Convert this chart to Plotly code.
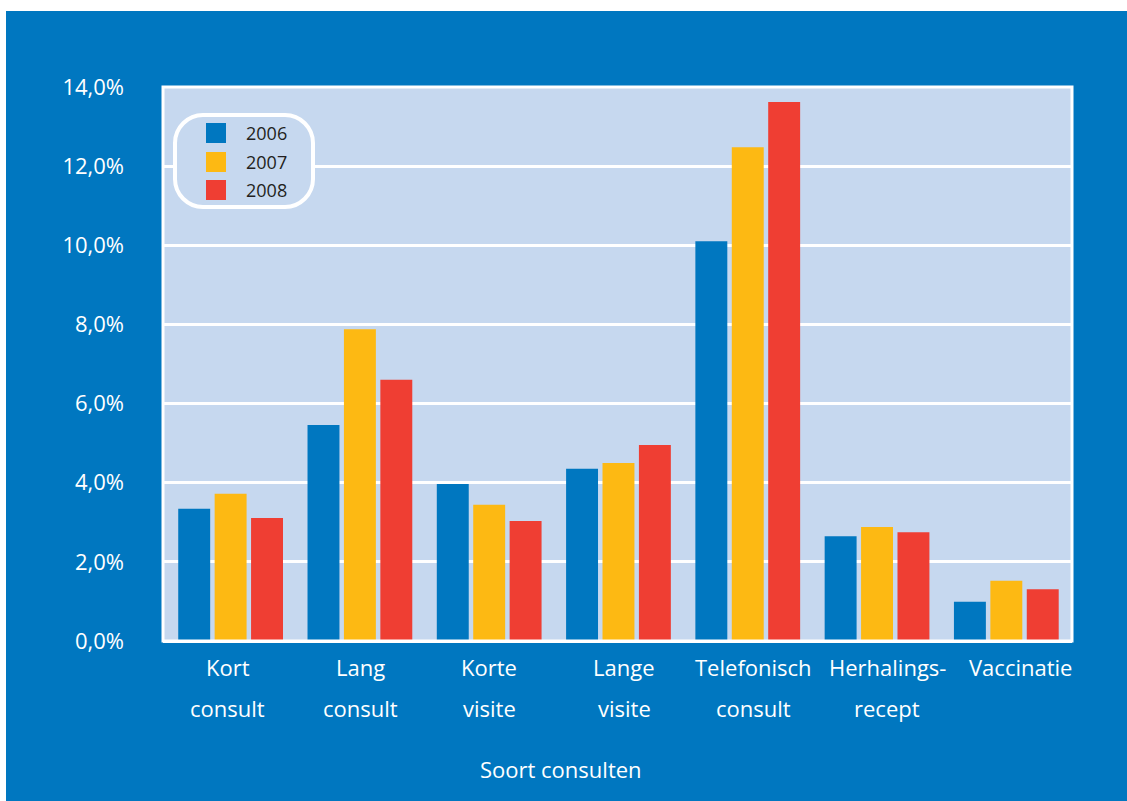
import plotly.graph_objects as go

# ---- data -------------------------------------------------------------
categories = ["Kort consult", "Lang consult", "Korte visite", "Lange visite",
              "Telefonisch consult", "Herhalings-recept", "Vaccinatie"]
label_line1 = ["Kort", "Lang", "Korte", "Lange", "Telefonisch", "Herhalings-", "Vaccinatie"]
label_line2 = ["consult", "consult", "visite", "visite", "consult", "recept", ""]

years = ["2006", "2007", "2008"]
values_2006 = [3.34, 5.46, 3.97, 4.35, 10.10, 2.65, 0.99]
values_2007 = [3.72, 7.88, 3.44, 4.50, 12.48, 2.88, 1.52]
values_2008 = [3.11, 6.60, 3.03, 4.95, 13.62, 2.75, 1.31]
series = [values_2006, values_2007, values_2008]

y_ticks = [0, 2, 4, 6, 8, 10, 12, 14]
y_ticktext = [f"{v:.1f}%".replace(".", ",") for v in y_ticks]
axis_title = "Soort consulten"

# ---- styling ----------------------------------------------------------
BLUE = "#0077C0"
PANEL = "#C6D8EF"
COLORS = ["#0077C0", "#FDB913", "#EF3E33"]
FONT = "Open Sans"

W, H = 1127, 801
L, R, T, B = 163, 1072, 87, 641          # plot area edges in pixels


def px_x(p):
    return (p - L) / (R - L)


def px_y(p):
    return (B - p) / (B - T)


fig = go.Figure()
for name, vals, col in zip(years, series, COLORS):
    fig.add_trace(go.Bar(x=categories, y=vals, name=name,
                         marker=dict(color=col, line=dict(width=0)),
                         showlegend=False))

fig.update_layout(
    width=W, height=H,
    margin=dict(l=L, r=W - R, t=T, b=H - B),
    paper_bgcolor=BLUE,
    plot_bgcolor=PANEL,
    barmode="group",
    bargap=0.155,
    bargroupgap=0.123,
    font=dict(family=FONT, color="white", size=22),
    xaxis=dict(showticklabels=False, showgrid=False, zeroline=False,
               showline=False, ticks="", range=[-0.523, 6.508]),
    yaxis=dict(range=[0, 14], tickmode="array", tickvals=y_ticks,
               ticktext=y_ticktext,
               showgrid=True, gridcolor="white", gridwidth=3,
               zeroline=True, zerolinecolor="white", zerolinewidth=3,
               showline=False, ticks="", ticklabelstandoff=38,
               tickfont=dict(size=22, color="white", family=FONT)),
)

shapes = []
# white strips at the top and left edge of the page
shapes.append(dict(type="rect", xref="paper", yref="paper", layer="above",
                   x0=px_x(0), x1=px_x(W), y0=px_y(0), y1=px_y(11),
                   fillcolor="white", line=dict(width=0)))
shapes.append(dict(type="rect", xref="paper", yref="paper", layer="above",
                   x0=px_x(0), x1=px_x(6), y0=px_y(0), y1=px_y(H),
                   fillcolor="white", line=dict(width=0)))
# frame around the plot area
shapes.append(dict(type="rect", xref="paper", yref="paper", layer="above",
                   x0=0, x1=1, y0=0, y1=1,
                   line=dict(color="white", width=3)))

# rounded legend box
lx0, lx1, ly0, ly1, rad = 175, 313, 115, 207, 28
k = 0.55 * rad


def P(x, y):
    return f"{px_x(x):.5f},{px_y(y):.5f}"


path = (f"M{P(lx0 + rad, ly0)} L{P(lx1 - rad, ly0)} "
        f"C{P(lx1 - rad + k, ly0)} {P(lx1, ly0 + rad - k)} {P(lx1, ly0 + rad)} "
        f"L{P(lx1, ly1 - rad)} "
        f"C{P(lx1, ly1 - rad + k)} {P(lx1 - rad + k, ly1)} {P(lx1 - rad, ly1)} "
        f"L{P(lx0 + rad, ly1)} "
        f"C{P(lx0 + rad - k, ly1)} {P(lx0, ly1 - rad + k)} {P(lx0, ly1 - rad)} "
        f"L{P(lx0, ly0 + rad)} "
        f"C{P(lx0, ly0 + rad - k)} {P(lx0 + rad - k, ly0)} {P(lx0 + rad, ly0)} Z")
shapes.append(dict(type="path", xref="paper", yref="paper", layer="above",
                   path=path, fillcolor=PANEL, line=dict(color="white", width=4)))

annotations = []
row_y = [133, 162, 190]
for name, col, yc in zip(years, COLORS, row_y):
    shapes.append(dict(type="rect", xref="paper", yref="paper", layer="above",
                       x0=px_x(206), x1=px_x(226), y0=px_y(yc + 10), y1=px_y(yc - 10),
                       fillcolor=col, line=dict(width=0)))
    annotations.append(dict(text=name, xref="paper", yref="paper",
                            x=px_x(244), y=px_y(yc), xanchor="left", yanchor="middle",
                            showarrow=False,
                            font=dict(size=18, color="#231F20", family=FONT)))

# two-line category labels under the bars
label_shift = [-3, 1, 0, 6, 6, 10, 14]
for cat, l1, l2, sh in zip(categories, label_line1, label_line2, label_shift):
    annotations.append(dict(text=l1, xref="x", yref="paper", x=cat, y=px_y(667),
                            xanchor="center", yanchor="middle", xshift=sh,
                            showarrow=False))
    if l2:
        annotations.append(dict(text=l2, xref="x", yref="paper", x=cat, y=px_y(708),
                                xanchor="center", yanchor="middle", xshift=sh,
                                showarrow=False))

annotations.append(dict(text=axis_title, xref="paper", yref="paper",
                        x=px_x(561), y=px_y(769), xanchor="center", yanchor="middle",
                        showarrow=False))

fig.update_layout(shapes=shapes, annotations=annotations)
fig.write_html("out.html")
